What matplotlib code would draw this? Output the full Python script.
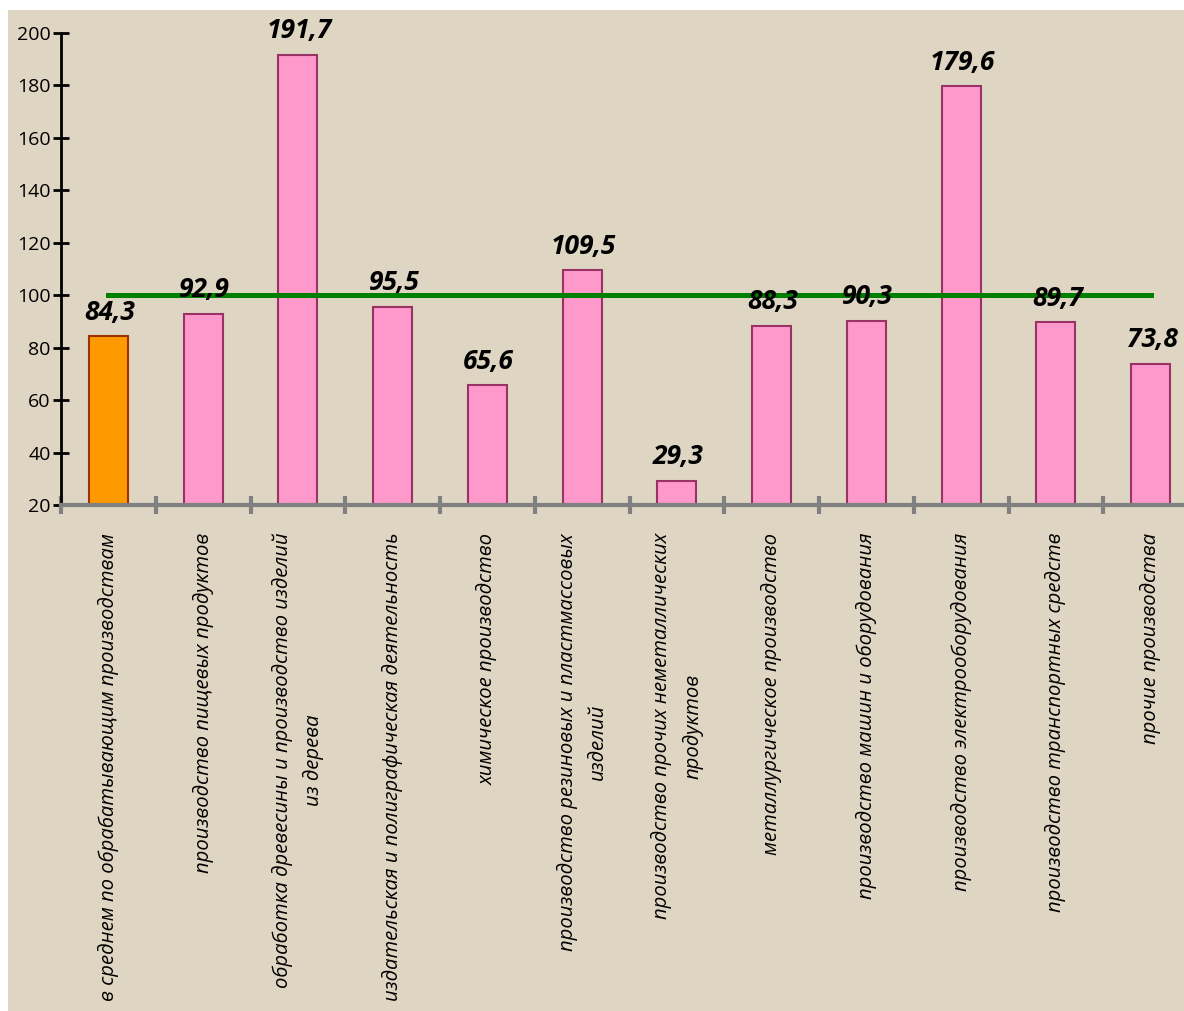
import matplotlib
matplotlib.use("Agg")
import matplotlib.pyplot as plt
from matplotlib.patches import Rectangle
import numpy as np

categories = [
    "в среднем по обрабатывающим производствам",
    "производство пищевых продуктов",
    "обработка древесины и производство изделий\nиз дерева",
    "издательская и полиграфическая деятельность",
    "химическое производство",
    "производство резиновых и пластмассовых\nизделий",
    "производство прочих неметаллических\nпродуктов",
    "металлургическое производство",
    "производство машин и оборудования",
    "производство электрооборудования",
    "производство транспортных средств",
    "прочие производства",
]
values = [84.3, 92.9, 191.7, 95.5, 65.6, 109.5, 29.3, 88.3, 90.3, 179.6, 89.7, 73.8]
labels = ["84,3", "92,9", "191,7", "95,5", "65,6", "109,5", "29,3", "88,3", "90,3", "179,6", "89,7", "73,8"]
baseline = [100] * 12
yticks = [20, 40, 60, 80, 100, 120, 140, 160, 180, 200]

plt.rcParams["font.family"] = ["Open Sans", "DejaVu Sans"]

W, H = 1184, 1011
fig = plt.figure(figsize=(W / 100, H / 100), dpi=100)
fig.patch.set_facecolor("white")
fig.add_artist(Rectangle((8 / W, 0), 1, 1 - 10 / H, transform=fig.transFigure,
                         facecolor="#ded5c2", edgecolor="none", zorder=-10))

ax = fig.add_axes([61 / W, 1 - 505 / H, 12 * 94.75 / W, (505 - 33) / H])
ax.set_facecolor("none")
ax.set_zorder(1)

x = np.arange(len(values))
colors = ["#ff9900"] + ["#ff99cc"] * 11
edges = ["#993300"] + ["#993366"] * 11
ax.bar(x, [v - 20 for v in values], bottom=20, width=0.41, color=colors,
       edgecolor=edges, linewidth=1.5, zorder=2)
ax.plot(x, baseline, color="#008000", linewidth=3.6, zorder=3)

for xi, v, t in zip(x, values, labels):
    ax.annotate(t, (xi, v), xytext=(1, 12), textcoords="offset points",
                ha="center", va="baseline", fontsize=19, fontweight="bold",
                fontstyle="italic", zorder=5)

ax.set_xlim(-0.5, 11.5)
ax.set_ylim(20, 200)
ax.set_yticks(yticks)
ax.tick_params(axis="y", direction="inout", length=11, width=2, color="black",
               labelsize=14, pad=2)
for s in ["top", "right"]:
    ax.spines[s].set_visible(False)
ax.spines["left"].set_linewidth(2)
ax.spines["left"].set_color("black")
ax.spines["bottom"].set_linewidth(3)
ax.spines["bottom"].set_color("#808080")
ax.spines["bottom"].set_zorder(4)

ax.set_xticks(np.arange(-0.5, 12, 1), minor=True)
ax.tick_params(axis="x", which="minor", direction="inout", length=13, width=3,
               color="#808080")
ax.set_xticks(x)
ax.set_xticklabels(categories, rotation=90, fontsize=14.6, fontstyle="italic",
                   multialignment="center", va="top", ha="center",
                   linespacing=1.65)
ax.tick_params(axis="x", which="major", length=0, pad=20)

fig.savefig("out.png", dpi=100)
